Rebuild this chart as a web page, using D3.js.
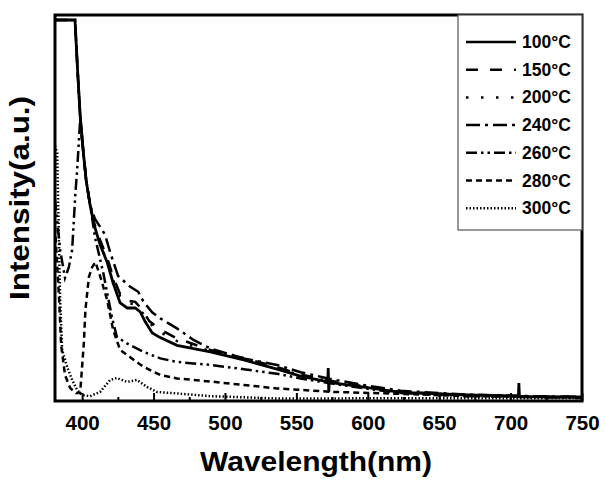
<!DOCTYPE html>
<html>
<head>
<meta charset="utf-8">
<script src="https://cdn.jsdelivr.net/npm/d3@7"></script>
<style>
  body { margin: 0; background: #fff; }
  text { font-family: "Liberation Sans", Arial, sans-serif; font-weight: bold; fill: #000; }
</style>
</head>
<body>
<div id="chart"></div>
<script>
// Spectra: [wavelength (nm), intensity (a.u., 0-100)]
const s100 = [[381,98.7],[395,98.7],[396.8,85.7],[398.6,74],[400.7,64.9],[402.8,57.1],[405.6,50.6],[408.4,45.5],[412.6,40.3],[417.5,35.8],[421.7,30.4],[426.6,25.2],[431.6,23.9],[437.2,23.9],[440.7,22.9],[444.2,20.3],[449.1,17.4],[454.7,16.2],[466.4,14.2],[489.8,12.5],[513.1,10.4],[536.5,8.0],[552.9,6.2],[572,4.7],[572.3,8.3],[572.7,2.0],[573,4.6],[600,3.2],[623,2.0],[670,1.3],[705.5,1.0],[705.8,4.4],[706.2,0.8],[716,0.8],[750,0.7]];
const s150 = [[381,98.7],[395,98.7],[396.8,85.7],[398.6,74],[400.7,64.9],[402.8,57.1],[405.6,50.6],[408.4,46],[412.6,41.5],[417.5,37],[421.7,32],[426.6,27.5],[431.6,25.8],[437.2,25.5],[442,23.5],[447,20.5],[454.7,18.3],[466.4,16],[489.8,13],[513.1,10.9],[536.5,8.6],[553,6.6],[576,4.9],[600,3.4],[623,2.1],[670,1.3],[716,0.9],[750,0.8]];
const s200 = [[381,98.7],[395,98.7],[396.8,85.7],[398.6,74],[400.7,64.9],[402.8,57.1],[405.6,50.6],[408.4,45.5],[412.6,40.5],[417.5,36],[421.7,31.2],[426.6,27],[431.6,25.2],[437.2,24.8],[442,22.8],[447.7,19.8],[454.7,17.6],[466.4,15.3],[489.8,12.7],[513.1,10.6],[536.5,8.3],[553,6.4],[576,4.7],[600,3.3],[623,2.0],[670,1.3],[716,0.8],[750,0.8]];
const s240 = [[381,98.7],[395,98.7],[396.8,85.7],[398.6,74],[400.7,64.9],[402.8,57.1],[405.6,50.6],[409,47],[416,43],[419.6,38.4],[425.2,32.2],[433.7,29.4],[439.3,28.1],[443,25.5],[449,22.8],[454.7,21.2],[466.4,18.6],[478,15.6],[489.8,13.4],[501.5,12.1],[513.1,10.8],[536.5,9.1],[553,7.2],[576,5.3],[600,3.7],[623,2.4],[670,1.4],[716,1.0],[750,0.8]];
const s260 = [[381,52],[384.6,39],[388,31.7],[390.7,34.5],[393,39],[394.2,46.8],[395.3,53.8],[396.5,59.7],[398.6,72.7],[400.7,64.9],[402.8,57.1],[405.6,50.6],[409.1,42.1],[414.7,33.2],[421,21.3],[424.3,16.4],[431.3,14.7],[443,12.5],[454.7,10.8],[466.4,9.9],[489.8,9.1],[513.1,8.0],[536.5,6.8],[552.9,5.6],[576,4.2],[599.9,2.9],[623,1.8],[670,1.0],[716,0.8],[750,0.5]];
const s280 = [[381,45],[383.9,26],[385.3,14.3],[388,6.5],[391.6,3.1],[395.8,1.8],[398.6,1.8],[401.2,14.8],[402.3,23.4],[404.7,31.9],[407,34.5],[409.3,35.8],[412.6,32.2],[417.5,26],[421.7,18.2],[426.6,13],[443,8.6],[454.7,6.5],[466.4,5.6],[489.8,4.8],[513.1,3.9],[536.5,3.0],[576,2.1],[623,1.6],[670,1.0],[750,0.8]];
const s300 = [[381,66],[382.5,64.2],[383.9,39],[384.6,26],[386,13],[389.5,8.6],[393,5.2],[396.5,2.6],[400,1.3],[405.6,1.0],[412.6,2.1],[419.6,5.2],[424.3,5.7],[431.3,4.7],[438.4,5.2],[445.4,3.4],[452.4,2.1],[466.4,1.7],[489.8,1.0],[536.5,0.4],[750,0.5]];

const series = [s100, s150, s200, s240, s260, s280, s300];
const labels = ["100°C", "150°C", "200°C", "240°C", "260°C", "280°C", "300°C"];
const xTicks = [400, 450, 500, 550, 600, 650, 700, 750];
const xMinorTicks = [425, 475, 525, 575, 625, 675, 725];

// line styles, same order as labels
const dashes = [null, "12,12", "2.5,12.5", "14,5,3,5", "11,4,2.5,4,2.5,4", "6,4", "1.5,2"];

const W = 605, H = 484;
const plot = { left: 55, right: 582, top: 15, bottom: 401 };

const svg = d3.select("#chart").append("svg")
  .attr("width", W).attr("height", H);

const x = d3.scaleLinear().domain([381, 750]).range([plot.left, plot.right]);
const y = d3.scaleLinear().domain([0, 100]).range([plot.bottom - 1, plot.top]);

svg.append("clipPath").attr("id", "clip")
  .append("rect")
    .attr("x", plot.left).attr("y", plot.top)
    .attr("width", plot.right - plot.left).attr("height", plot.bottom - plot.top);

const line = d3.line().x(d => x(d[0])).y(d => y(d[1]));

const g = svg.append("g").attr("clip-path", "url(#clip)");
g.selectAll("path")
  .data(series)
  .enter().append("path")
    .attr("d", line)
    .attr("fill", "none")
    .attr("stroke", "#000")
    .attr("stroke-width", (d, i) => i == 0 ? 2.8 : 2.5)
    .attr("stroke-dasharray", (d, i) => dashes[i]);

// bottom axis, ticks pointing into the plot
const xAxis = svg.append("g")
  .attr("transform", "translate(0," + plot.bottom + ")")
  .call(d3.axisBottom(x).tickValues(xTicks).tickSize(-8).tickPadding(14).tickFormat(d3.format("d")));
xAxis.select(".domain").remove();
xAxis.selectAll("line").attr("stroke", "#000").attr("stroke-width", 2);
xAxis.selectAll("text").style("font-size", "20.5px").attr("fill", "#000");

const xMinor = svg.append("g")
  .attr("transform", "translate(0," + plot.bottom + ")")
  .call(d3.axisBottom(x).tickValues(xMinorTicks).tickSize(-4).tickFormat(""));
xMinor.select(".domain").remove();
xMinor.selectAll("line").attr("stroke", "#000").attr("stroke-width", 2);

// frame
svg.append("rect")
  .attr("x", plot.left).attr("y", plot.top)
  .attr("width", plot.right - plot.left).attr("height", plot.bottom - plot.top)
  .attr("fill", "none").attr("stroke", "#000").attr("stroke-width", 3);

// legend
const leg = svg.append("g");
leg.append("rect")
  .attr("x", 458).attr("y", plot.top)
  .attr("width", plot.right - 458).attr("height", 230 - plot.top)
  .attr("fill", "#fff").attr("stroke", "#555").attr("stroke-width", 1.2);

const items = leg.selectAll("g.item")
  .data(labels)
  .enter().append("g")
    .attr("class", "item")
    .attr("transform", (d, i) => "translate(0," + (42 + i * 27.7) + ")");
items.append("line")
  .attr("x1", 466).attr("x2", 516)
  .attr("stroke", "#000").attr("stroke-width", 2.5)
  .attr("stroke-dasharray", (d, i) => dashes[i]);
items.append("text")
  .attr("x", 522).attr("y", 6)
  .style("font-size", "17.5px")
  .text(d => d);

// axis titles
svg.append("text")
  .attr("x", 316).attr("y", 471)
  .attr("text-anchor", "middle")
  .attr("textLength", 232).attr("lengthAdjust", "spacingAndGlyphs")
  .style("font-size", "27px")
  .text("Wavelength(nm)");

svg.append("text")
  .attr("transform", "translate(29,198) rotate(-90)")
  .attr("text-anchor", "middle")
  .attr("textLength", 204).attr("lengthAdjust", "spacingAndGlyphs")
  .style("font-size", "27px")
  .text("Intensity(a.u.)");
</script>
</body>
</html>
